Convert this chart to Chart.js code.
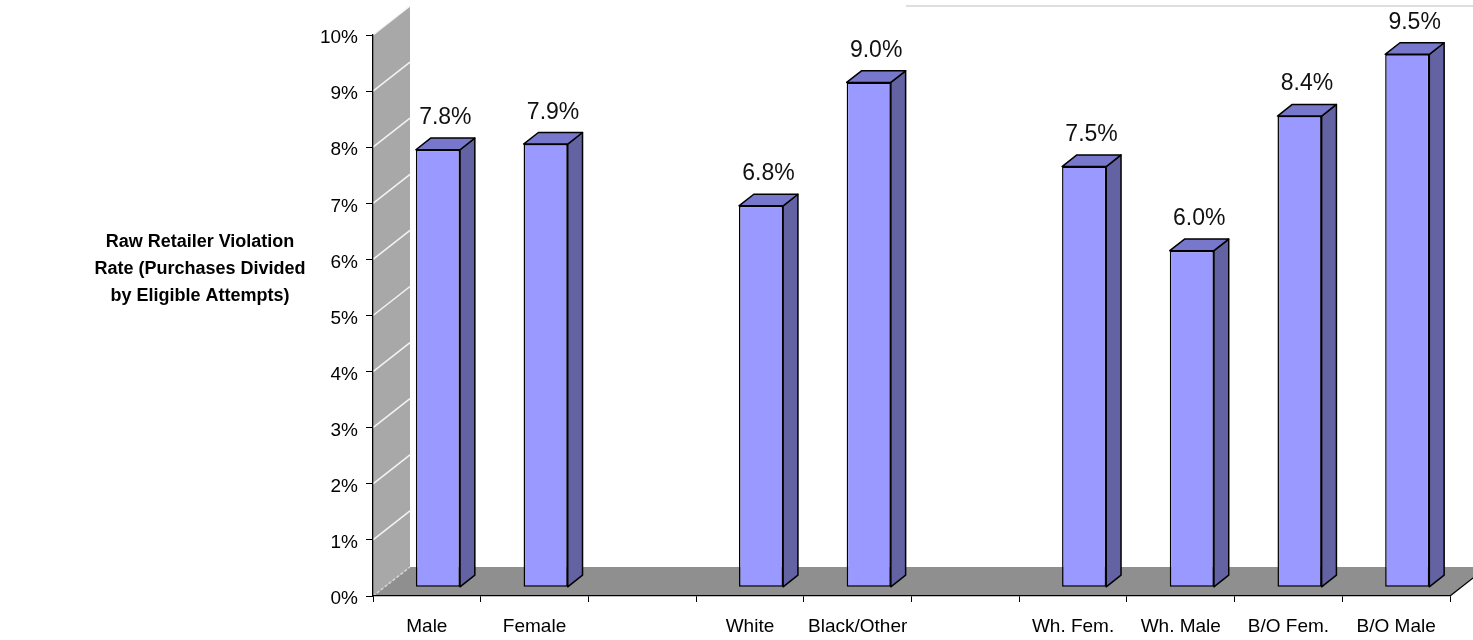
<!DOCTYPE html>
<html>
<head>
<meta charset="utf-8">
<title>Raw Retailer Violation Rate</title>
<script src="https://cdn.jsdelivr.net/npm/chart.js@4.4.1/dist/chart.umd.min.js"></script>
<style>
  html, body { margin: 0; padding: 0; background: #ffffff; overflow: hidden; }
  #wrap { width: 1473px; height: 640px; position: relative; }
</style>
</head>
<body>
<div id="wrap"><canvas id="chart" width="1473" height="640"></canvas></div>
<script>
// Groups are separated by empty categories
const categories = ['Male', 'Female', '', 'White', 'Black/Other', '', 'Wh. Fem.', 'Wh. Male', 'B/O Fem.', 'B/O Male'];
const violationRates = [7.8, 7.9, null, 6.8, 9.0, null, 7.5, 6.0, 8.4, 9.5];
const rateTicks = [0, 1, 2, 3, 4, 5, 6, 7, 8, 9, 10];
const axisTitleLines = ['Raw Retailer Violation', 'Rate (Purchases Divided', 'by Eligible Attempts)'];

// Depth of the 3-D box (wall / floor) and where the bars sit inside it
const DEPTH_X = 37, DEPTH_Y = -29;
const BAR_FRONT = 0.3, BAR_BACK = 0.7;
const FRONT_DX = DEPTH_X * BAR_FRONT, FRONT_DY = DEPTH_Y * BAR_FRONT;
const BAR_DX = DEPTH_X * (BAR_BACK - BAR_FRONT), BAR_DY = DEPTH_Y * (BAR_BACK - BAR_FRONT);

function poly(ctx, pts) {
  ctx.beginPath();
  ctx.moveTo(pts[0][0], pts[0][1]);
  for (let i = 1; i < pts.length; i++) ctx.lineTo(pts[i][0], pts[i][1]);
  ctx.closePath();
}

const box3d = {
  id: 'box3d',
  beforeDraw(chart) {
    const { ctx, chartArea: a } = chart;
    const yScale = chart.scales.y;
    ctx.save();
    // side wall
    ctx.fillStyle = '#a8a8a8';
    poly(ctx, [[a.left, a.top], [a.left + DEPTH_X, a.top + DEPTH_Y], [a.left + DEPTH_X, a.bottom + DEPTH_Y], [a.left, a.bottom]]);
    ctx.fill();
    // floor
    ctx.fillStyle = '#8f8f8f';
    poly(ctx, [[a.left, a.bottom], [a.left + DEPTH_X, a.bottom + DEPTH_Y], [a.right + DEPTH_X, a.bottom + DEPTH_Y], [a.right, a.bottom]]);
    ctx.fill();
    // grid lines running across the wall
    ctx.lineWidth = 1.5;
    yScale.ticks.forEach(t => {
      const py = yScale.getPixelForValue(t.value);
      ctx.beginPath();
      if (t.value === 0) {
        ctx.strokeStyle = '#d8d8d8';
        ctx.setLineDash([3, 2]);
      } else {
        ctx.strokeStyle = '#f4f4f4';
        ctx.setLineDash([]);
      }
      ctx.moveTo(a.left, py);
      ctx.lineTo(a.left + DEPTH_X, py + DEPTH_Y);
      ctx.stroke();
    });
    ctx.setLineDash([]);
    // right edge of the floor
    ctx.strokeStyle = '#000000';
    ctx.lineWidth = 1.3;
    ctx.beginPath();
    ctx.moveTo(a.right, a.bottom);
    ctx.lineTo(a.right + DEPTH_X, a.bottom + DEPTH_Y);
    ctx.stroke();
    // faint top edge of the back plane
    ctx.strokeStyle = '#dedede';
    ctx.lineWidth = 2;
    ctx.beginPath();
    ctx.moveTo(906, yScale.getPixelForValue(10) + DEPTH_Y);
    ctx.lineTo(chart.width, yScale.getPixelForValue(10) + DEPTH_Y);
    ctx.stroke();
    ctx.restore();
  },
  beforeDatasetsDraw(chart) {
    chart.ctx.save();
    chart.ctx.translate(FRONT_DX, FRONT_DY);
  },
  afterDatasetsDraw(chart) {
    const ctx = chart.ctx;
    ctx.restore();
    const meta = chart.getDatasetMeta(0);
    ctx.save();
    ctx.lineWidth = 1.5;
    ctx.strokeStyle = '#000000';
    ctx.lineJoin = 'round';
    meta.data.forEach((el, i) => {
      const v = violationRates[i];
      if (v === null || v === undefined) return;
      const p = el.getProps(['x', 'y', 'base', 'width'], true);
      const left = p.x - p.width / 2 + FRONT_DX;
      const right = p.x + p.width / 2 + FRONT_DX;
      const top = p.y + FRONT_DY;
      const base = p.base + FRONT_DY;
      // side face
      ctx.fillStyle = '#6363a3';
      poly(ctx, [[right, top], [right + BAR_DX, top + BAR_DY], [right + BAR_DX, base + BAR_DY], [right, base]]);
      ctx.fill();
      ctx.stroke();
      // top face
      ctx.fillStyle = '#7777cc';
      poly(ctx, [[left, top], [left + BAR_DX, top + BAR_DY], [right + BAR_DX, top + BAR_DY], [right, top]]);
      ctx.fill();
      ctx.stroke();
      // value label
      ctx.fillStyle = '#111111';
      ctx.font = '23px "Liberation Sans", Arial, sans-serif';
      ctx.textAlign = 'center';
      ctx.textBaseline = 'alphabetic';
      ctx.fillText(v.toFixed(1) + '%', (left + right + BAR_DX) / 2, top + BAR_DY - 14);
    });
    ctx.restore();
  },
  afterDraw(chart) {
    const ctx = chart.ctx;
    ctx.save();
    ctx.fillStyle = '#000000';
    ctx.font = 'bold 18px "Liberation Sans", Arial, sans-serif';
    ctx.textAlign = 'center';
    ctx.textBaseline = 'middle';
    axisTitleLines.forEach((line, i) => ctx.fillText(line, 200, 242 + i * 27));
    ctx.restore();
  }
};

new Chart(document.getElementById('chart'), {
  type: 'bar',
  data: {
    labels: categories,
    datasets: [{
      data: violationRates,
      backgroundColor: '#9999ff',
      borderColor: '#000000',
      borderWidth: 1.5,
      borderSkipped: false,
      barPercentage: 1,
      categoryPercentage: 0.41
    }]
  },
  options: {
    responsive: false,
    animation: false,
    devicePixelRatio: 1,
    layout: { padding: { top: 35, right: 23, bottom: 0, left: 0 }, autoPadding: false },
    plugins: { legend: { display: false }, tooltip: { enabled: false } },
    scales: {
      x: {
        offset: true,
        grid: { display: true, drawOnChartArea: false, drawTicks: true, tickLength: 6, color: '#000000', offset: true },
        border: { display: true, color: '#000000', width: 1.3 },
        ticks: {
          color: '#000000',
          padding: 13,
          maxRotation: 0,
          autoSkip: false,
          font: { family: '"Liberation Sans", Arial, sans-serif', size: 19 }
        },
        afterFit(scale) { scale.height = 44; }
      },
      y: {
        min: 0,
        max: 10,
        afterBuildTicks(scale) { scale.ticks = rateTicks.map(v => ({ value: v })); },
        grid: { display: true, drawOnChartArea: false, drawTicks: true, tickLength: 7, color: '#000000' },
        border: { display: true, color: '#000000', width: 1.3 },
        ticks: {
          color: '#000000',
          padding: 8,
          labelOffset: 3,
          font: { family: '"Liberation Sans", Arial, sans-serif', size: 19 },
          callback: v => v + '%'
        },
        afterFit(scale) { scale.width = 373; }
      }
    }
  },
  plugins: [box3d]
});
</script>
</body>
</html>
